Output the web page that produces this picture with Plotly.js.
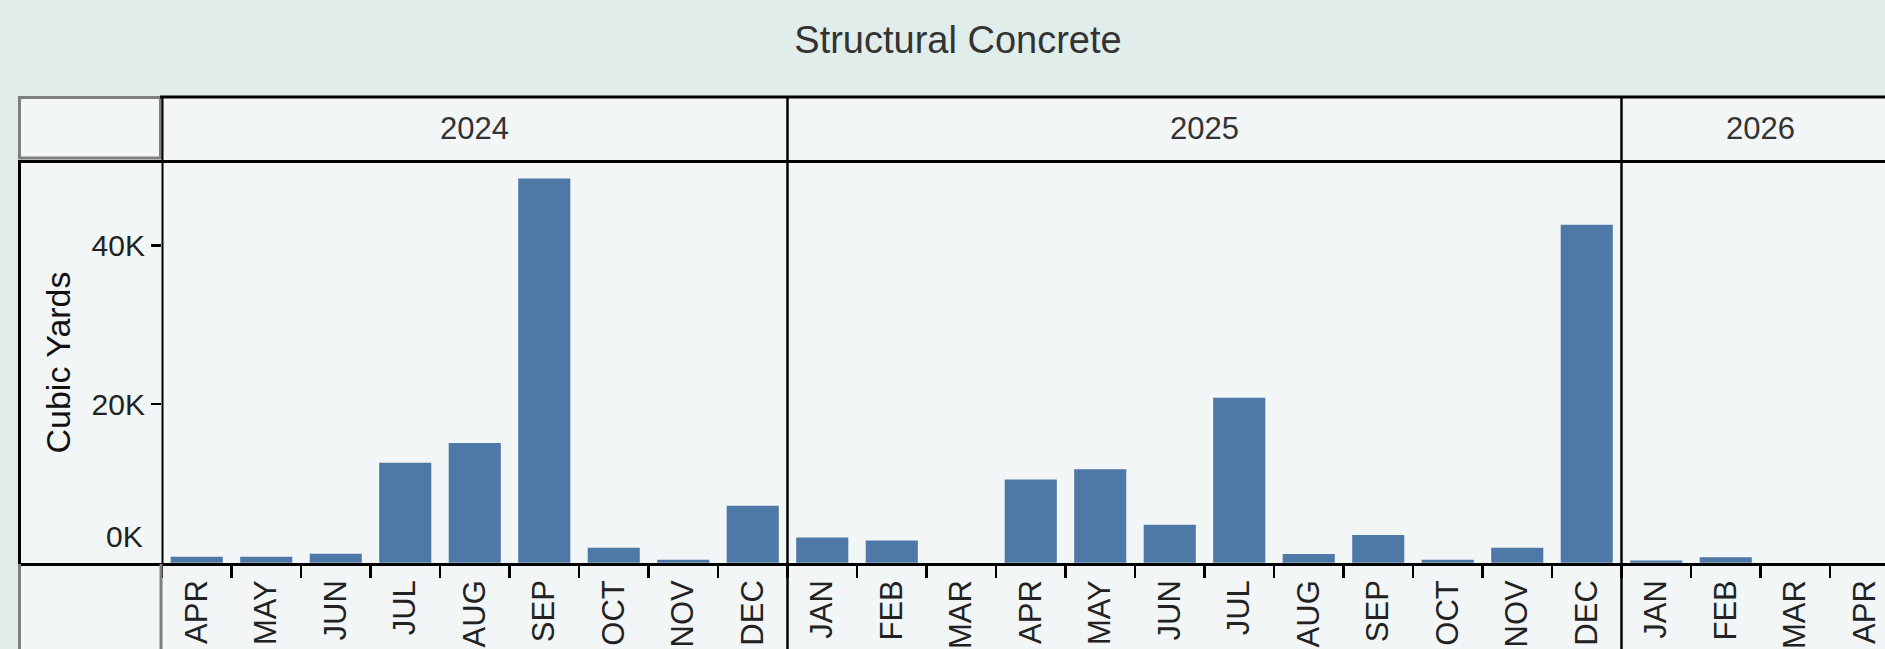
<!DOCTYPE html>
<html>
<head>
<meta charset="utf-8">
<script src="https://cdn.plot.ly/plotly-3.0.1.min.js"></script>
<style>
  html, body { margin: 0; padding: 0; background: #E0EDEA; overflow: hidden; }
  #plot { width: 1885px; height: 649px; }
</style>
</head>
<body>
<div id="plot"></div>
<script>
// data (cubic yards per month)
var years = ['2024', '2025', '2026'];
var months2024 = ['APR', 'MAY', 'JUN', 'JUL', 'AUG', 'SEP', 'OCT', 'NOV', 'DEC'];
var values2024 = [750, 750, 1150, 12600, 15100, 48400, 1900, 400, 7200];
var months2025 = ['JAN', 'FEB', 'MAR', 'APR', 'MAY', 'JUN', 'JUL', 'AUG', 'SEP', 'OCT', 'NOV', 'DEC'];
var values2025 = [3200, 2800, 0, 10500, 11800, 4800, 20800, 1100, 3500, 400, 1900, 42600];
var months2026 = ['JAN', 'FEB', 'MAR', 'APR'];
var values2026 = [300, 700, 0, 0];
var yTickVals = [20000, 40000];
var yTickText = ['20K', '40K'];

var W = 1885, H = 649;
var plotLeft = 162, plotTop = 161, plotBottom = 564;
var unit = 69.5;          // px per month
var fontFamily = 'Liberation Sans, Arial, sans-serif';
var black = '#000000';

function px2x(px) { return (px - plotLeft) / (W - plotLeft); }
function py2y(py) { return (plotBottom - py) / (plotBottom - plotTop); }

var panels = [
  {year: years[0], months: months2024, values: values2024},
  {year: years[1], months: months2025, values: values2025},
  {year: years[2], months: months2026, values: values2026}
];

var data = [];
var layout = {
  width: W, height: H,
  margin: {l: plotLeft, r: 0, t: plotTop, b: H - plotBottom, pad: 0},
  paper_bgcolor: '#E0EDEA',
  plot_bgcolor: '#F2F6F6',
  font: {family: fontFamily, size: 30, color: '#222'},
  showlegend: false,
  hovermode: false,
  bargap: 0.25,
  title: {
    text: 'Structural Concrete',
    font: {family: fontFamily, size: 38, color: '#333'},
    x: 958 / W, xanchor: 'center',
    yref: 'container', y: 1 - 40 / H, yanchor: 'middle'
  },
  yaxis: {
    range: [-150, 50620],
    tickvals: yTickVals, ticktext: yTickText,
    ticks: 'outside', ticklen: 10, tickwidth: 2.5, tickcolor: black,
    tickfont: {size: 30, color: '#222'},
    showgrid: false, zeroline: false, showline: false,
    anchor: 'x', fixedrange: true,
    title: {text: 'Cubic Yards', font: {size: 34, color: '#111'}, standoff: 10}
  },
  shapes: [],
  annotations: []
};

var cum = 0;
panels.forEach(function (p, i) {
  var suffix = i === 0 ? '' : String(i + 1);
  var start = plotLeft + cum * unit;
  var end = start + p.months.length * unit;
  var visEnd = Math.min(end, W);
  data.push({
    type: 'bar',
    x: p.months, y: p.values,
    xaxis: 'x' + suffix, yaxis: 'y',
    marker: {color: '#4E79A7', line: {width: 0}}
  });
  layout['xaxis' + suffix] = {
    type: 'category',
    categoryorder: 'array', categoryarray: p.months,
    domain: [px2x(start), px2x(visEnd)],
    range: [-0.5, -0.5 + (visEnd - start) / unit],
    anchor: 'y',
    tickson: 'boundaries',
    ticks: 'outside', ticklen: 13, tickwidth: 2.5, tickcolor: black,
    tickangle: -90, ticklabelstandoff: 9,
    tickfont: {size: 31, color: '#222'},
    showgrid: false, zeroline: false, showline: false,
    fixedrange: true
  };
  // year header label
  layout.annotations.push({
    text: p.year, showarrow: false,
    xref: 'paper', yref: 'paper',
    x: px2x((start + end) / 2), y: py2y(129),
    xanchor: 'center', yanchor: 'middle',
    font: {size: 31, color: '#333'}
  });
  // separator between year panels
  if (i > 0) {
    layout.shapes.push({
      type: 'line', xref: 'paper', yref: 'paper',
      x0: px2x(start), x1: px2x(start), y0: py2y(96), y1: py2y(H + 5),
      line: {color: black, width: 2.5}
    });
  }
  cum += p.months.length;
});

// zero label sits above the baseline, like the original
layout.annotations.push({
  text: '0K', showarrow: false,
  xref: 'paper', yref: 'y', x: 0, y: 0,
  xanchor: 'right', yanchor: 'middle', xshift: -17, yshift: 26,
  font: {size: 30, color: '#222'}
});

// sheet frame
layout.shapes.push(
  {type: 'rect', xref: 'paper', yref: 'paper', layer: 'below',
   x0: px2x(18), x1: px2x(W + 10), y0: py2y(96), y1: py2y(H + 10),
   fillcolor: '#F2F6F6', line: {width: 0}},
  {type: 'rect', xref: 'paper', yref: 'paper',
   x0: px2x(19.5), x1: px2x(160.5), y0: py2y(97.5), y1: py2y(158),
   line: {color: '#7F7F7F', width: 3}},
  {type: 'line', xref: 'paper', yref: 'paper',
   x0: px2x(160), x1: px2x(W + 10), y0: py2y(97), y1: py2y(97),
   line: {color: black, width: 3}},
  {type: 'line', xref: 'paper', yref: 'paper',
   x0: px2x(18), x1: px2x(W + 10), y0: py2y(161.5), y1: py2y(161.5),
   line: {color: black, width: 3}},
  {type: 'line', xref: 'paper', yref: 'paper',
   x0: px2x(18), x1: px2x(W + 10), y0: py2y(564.5), y1: py2y(564.5),
   line: {color: black, width: 3}},
  {type: 'line', xref: 'paper', yref: 'paper',
   x0: px2x(19.5), x1: px2x(19.5), y0: py2y(161), y1: py2y(564),
   line: {color: black, width: 3}},
  {type: 'line', xref: 'paper', yref: 'paper',
   x0: px2x(19.5), x1: px2x(19.5), y0: py2y(564), y1: py2y(H + 5),
   line: {color: '#7F7F7F', width: 3}},
  {type: 'line', xref: 'paper', yref: 'paper',
   x0: px2x(162.5), x1: px2x(162.5), y0: py2y(96), y1: py2y(564),
   line: {color: black, width: 2}},
  {type: 'line', xref: 'paper', yref: 'paper',
   x0: px2x(161), x1: px2x(161), y0: py2y(564), y1: py2y(H + 5),
   line: {color: '#7F7F7F', width: 3}}
);

Plotly.newPlot('plot', data, layout, {displayModeBar: false, staticPlot: true});
</script>
</body>
</html>
